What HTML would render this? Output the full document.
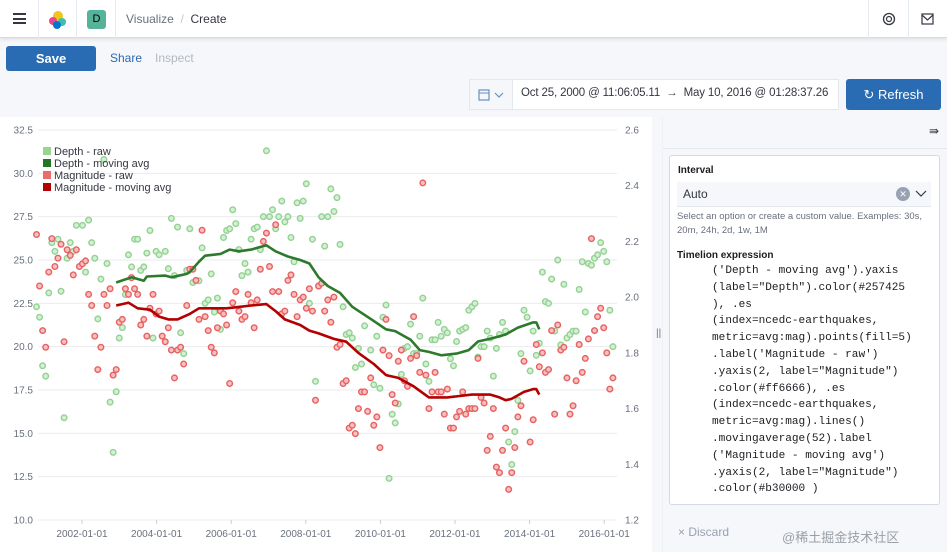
<!DOCTYPE html>
<html><head><meta charset="utf-8">
<style>
*{box-sizing:border-box;margin:0;padding:0}
body{width:947px;height:552px;overflow:hidden;background:#f5f7fa;font-family:"Liberation Sans","Noto Sans CJK SC",sans-serif;position:relative;color:#343741}
.abs{position:absolute}
#hdr{left:0;top:0;width:947px;height:38px;background:#fff;border-bottom:1px solid #d3dae6;box-shadow:0 2px 3px rgba(0,0,0,.08)}
.sep{position:absolute;top:0;width:1px;height:38px;background:#e6ebf2}
.code div{height:16.8px;white-space:pre}
</style></head><body>
<div id="hdr" class="abs">
  <div class="abs" style="left:13px;top:13px;width:13px;height:11px;border-top:2px solid #343741;border-bottom:2px solid #343741"><div style="margin-top:2.5px;height:2px;background:#343741"></div></div>
  <div class="sep" style="left:38px"></div>
  <svg class="abs" style="left:48px;top:10px" width="20" height="20"><circle cx="10" cy="6" r="5" fill="#f0c419"/><circle cx="5" cy="11" r="4" fill="#e8488b"/><circle cx="14" cy="12" r="4" fill="#3ebeb0"/><circle cx="9" cy="15" r="4" fill="#0077cc"/></svg>
  <div class="sep" style="left:76px"></div>
  <div class="abs" style="left:87px;top:10px;width:19px;height:19px;border-radius:3px;background:#54b399;color:#000;font-size:11px;text-align:center;line-height:19px">D</div>
  <div class="sep" style="left:115px"></div>
  <div class="abs" style="left:126px;top:12px;font-size:12px;color:#69707d">Visualize <span style="color:#c2c7cf">&nbsp;/&nbsp;</span> <span style="color:#343741">Create</span></div>
  <div class="sep" style="left:868px"></div>
  <svg class="abs" style="left:882px;top:12px" width="14" height="14"><circle cx="7" cy="7" r="5.5" fill="none" stroke="#343741" stroke-width="1.3"/><circle cx="7" cy="7" r="2.5" fill="none" stroke="#343741" stroke-width="1.2"/></svg>
  <div class="sep" style="left:908px"></div>
  <svg class="abs" style="left:921px;top:13px" width="13" height="12"><rect x="1" y="1" width="11" height="10" fill="none" stroke="#343741" stroke-width="1.2"/><path d="M1 2 L6.5 7 L12 2" fill="none" stroke="#343741" stroke-width="1.2"/></svg>
</div>
<div class="abs" style="left:6px;top:46px;width:90px;height:25px;background:#2a6cb3;border-radius:3px;color:#fff;font-size:13px;font-weight:bold;text-align:center;line-height:25px">Save</div>
<div class="abs" style="left:110px;top:51px;font-size:12px;color:#2a6cb3">Share</div>
<div class="abs" style="left:155px;top:51px;font-size:12px;color:#b4b9c2">Inspect</div>
<div class="abs" style="left:469px;top:79px;width:370px;height:31px;background:#fff;border:1px solid #e3e8ef">
  <div class="abs" style="left:0;top:0;width:43px;height:29px;background:#f5f7fa;border-right:1px solid #e3e8ef">
    <svg class="abs" style="left:8px;top:8px" width="28" height="14"><rect x="1" y="2" width="10" height="10" fill="none" stroke="#6a8fc2" stroke-width="1.2"/><line x1="1" y1="5" x2="11" y2="5" stroke="#6a8fc2"/><path d="M17 5 L21 9 L25 5" fill="none" stroke="#6a8fc2" stroke-width="1.2"/></svg>
  </div>
  <div class="abs" style="left:51px;top:7px;font-size:11.5px;letter-spacing:-0.15px;color:#343741;white-space:nowrap">Oct 25, 2000 @ 11:06:05.11 &nbsp;→&nbsp; May 10, 2016 @ 01:28:37.26</div>
</div>
<div class="abs" style="left:846px;top:79px;width:95px;height:31px;background:#2a6cb3;border-radius:3px;color:#fff;font-size:13px;text-align:center;line-height:31px">↻ Refresh</div>

<div class="abs" style="left:0;top:117px;width:652px;height:435px;background:#fff"></div>
<svg id="chart" class="abs" style="left:0;top:0" width="652" height="552"></svg>

<div class="abs" style="left:656px;top:328px;font-size:10px;color:#69707d">||</div>
<div class="abs" style="left:662px;top:117px;width:285px;height:435px;background:#f5f7fa;border-left:1px solid #eef1f5">
  <div class="abs" style="left:0;top:31px;width:285px;height:1px;background:#e3e8ef"></div>
  <div class="abs" style="left:266px;top:7px;font-size:12px;color:#343741">⇛</div>
</div>
<div class="abs" style="left:669px;top:155px;width:271px;height:350px;background:#fff;border:1px solid #d3dae6;border-radius:3px;overflow:hidden">
  <div class="abs" style="left:8px;top:9px;font-size:10px;font-weight:bold;color:#1a1c21">Interval</div>
  <div class="abs" style="left:7px;top:26px;width:254px;height:25px;background:#f5f7fa;border-bottom:1px solid #e3e8ef">
    <div class="abs" style="left:6px;top:5px;font-size:12px;color:#343741">Auto</div>
    <div class="abs" style="left:219px;top:5px;width:14px;height:14px;border-radius:7px;background:#98a2b3;color:#fff;font-size:9px;text-align:center;line-height:14px">✕</div>
    <svg class="abs" style="left:238px;top:8px" width="12" height="8"><path d="M1 1 L6 6 L11 1" fill="none" stroke="#343741" stroke-width="1.2"/></svg>
  </div>
  <div class="abs" style="left:7px;top:54px;font-size:9.5px;line-height:14px;color:#69707d;width:262px">Select an option or create a custom value. Examples: 30s, 20m, 24h, 2d, 1w, 1M</div>
  <div class="abs" style="left:7px;top:94px;font-size:10px;font-weight:bold;color:#1a1c21">Timelion expression</div>
  <div class="abs code" style="left:42px;top:107px;font-family:'Liberation Mono',monospace;font-size:11.1px;color:#1a1c21;line-height:16.8px">
<div>('Depth - moving avg').yaxis</div><div>(label="Depth").color(#257425</div><div>), .es</div><div>(index=ncedc-earthquakes,</div><div>metric=avg:mag).points(fill=5)</div><div>.label('Magnitude - raw')</div><div>.yaxis(2, label="Magnitude")</div><div>.color(#ff6666), .es</div><div>(index=ncedc-earthquakes,</div><div>metric=avg:mag).lines()</div><div>.movingaverage(52).label</div><div>('Magnitude - moving avg')</div><div>.yaxis(2, label="Magnitude")</div><div>.color(#b30000 )</div>
  </div>
</div>
<div class="abs" style="left:678px;top:525px;font-size:12px;color:#98a2b3">× Discard</div>
<div class="abs" style="left:782px;top:527px;font-size:13px;color:#9aa0a8;white-space:nowrap">@稀土掘金技术社区</div>

<script>
const ticksDepth=[10.0,12.5,15.0,17.5,20.0,22.5,25.0,27.5,30.0,32.5];
const ticksMag=[1.2,1.4,1.6,1.8,2.0,2.2,2.4,2.6];
const xTickYears=[2002,2004,2006,2008,2010,2012,2014,2016];
const xTickLabels=["2002-01-01","2004-01-01","2006-01-01","2008-01-01","2010-01-01","2012-01-01","2014-01-01","2016-01-01"];
const startYear=2000.78, bucketYears=0.0822;
const depthRaw=[22.3,21.7,18.9,18.3,23.1,26.0,25.5,26.2,23.2,15.9,25.1,26.0,25.5,27.0,null,
27.0,24.3,27.3,26.0,25.1,21.6,23.9,30.8,24.8,16.8,13.9,17.4,20.5,21.1,23.0,25.3,24.6,26.2,26.2,24.4,24.6,25.4,26.7,20.5,25.5,25.3,null,
25.5,24.5,27.4,24.1,26.9,20.8,19.6,24.4,26.8,23.7,null,
23.8,25.7,22.5,22.7,24.2,22.0,22.8,21.0,26.3,26.7,26.8,27.9,27.1,25.6,24.1,24.8,24.3,26.2,26.8,26.9,25.6,27.5,31.3,27.5,27.9,26.8,27.5,28.4,27.2,27.5,26.3,24.9,28.3,27.4,28.4,29.4,22.5,26.2,18.0,23.5,
27.5,25.8,27.5,29.1,27.8,28.6,25.9,22.3,20.7,20.8,20.5,18.8,19.9,19.0,21.2,null,19.8,17.8,20.6,17.6,21.7,22.4,12.4,16.1,15.6,16.7,18.4,19.9,20.0,21.3,19.6,19.6,20.6,22.8,19.0,18.0,20.4,20.4,21.4,20.6,21.0,20.8,19.3,18.9,20.3,20.9,21.0,21.1,22.1,22.3,22.5,19.4,20.0,20.0,20.9,20.5,18.3,19.9,20.7,21.4,20.9,14.5,13.2,15.1,16.9,19.6,22.1,21.7,18.6,20.9,19.5,20.2,24.3,22.6,22.5,23.9,20.9,25.0,20.1,23.6,20.5,20.7,20.9,20.9,23.3,24.9,22.0,24.8,24.7,25.1,25.3,26.0,25.5,24.9,22.1,20.0];
const magRaw=[2.225,2.04,1.88,1.82,2.09,2.21,2.11,2.14,2.19,1.84,2.17,2.15,2.08,2.17,2.11,2.12,2.13,2.01,1.97,1.86,1.74,1.82,2.01,1.97,2.03,1.72,1.74,1.91,1.92,2.03,2.01,2.07,2.03,2.01,1.90,1.92,1.86,1.96,2.01,1.94,1.95,1.86,1.84,1.89,1.81,1.71,1.81,1.82,1.76,1.97,2.10,2.10,2.06,1.92,2.24,1.93,1.88,1.82,1.80,1.89,1.95,1.94,1.90,1.69,1.98,2.02,1.95,1.92,1.93,2.01,1.98,1.89,1.99,2.10,2.20,2.23,2.11,2.02,2.26,2.02,1.94,1.95,2.06,2.08,2.01,1.93,1.99,2.00,1.96,2.03,1.95,1.63,
2.04,2.05,1.95,1.99,1.91,2.0,1.82,1.83,1.69,1.70,1.53,1.54,1.51,1.60,1.66,1.66,1.59,1.71,1.54,1.57,1.46,1.81,1.92,1.79,1.65,1.62,1.77,1.81,1.70,1.68,1.78,1.93,1.79,1.73,2.41,1.72,1.60,1.66,1.73,1.66,1.66,1.58,1.67,1.53,1.53,1.57,1.59,1.66,1.58,1.60,1.60,1.60,1.78,1.64,1.62,1.45,1.50,1.60,1.39,1.37,1.45,1.53,1.31,1.37,1.46,1.57,1.61,1.77,null,1.48,1.56,1.83,1.75,1.80,1.73,1.74,1.88,1.58,1.90,1.81,1.82,1.71,1.58,1.61,1.70,1.83,1.73,1.78,1.85,2.21,1.88,1.93,1.96,1.89,1.80,1.67,1.71];
const depthMaIdx=[26,31,35,36,42,44,49,50,53,55,60,63,66,70,75,78,82,86,89,92,95,99,103,109,114,117,122,125,128,132,137,141,144,149,153,157,162,163,164];
const depthMa=[23.7,24.0,23.8,24.05,24.1,24.0,24.2,24.3,24.9,25.25,25.35,25.6,25.5,25.6,25.85,25.5,25.2,25.0,24.8,24.0,23.5,23.1,22.3,21.6,21.0,20.9,20.4,19.8,19.7,19.5,19.6,19.8,20.3,20.5,20.7,21.1,21.4,21.4,21.0];
const magMaIdx=[26,30,33,37,40,43,46,50,53,57,62,66,70,75,78,81,86,89,92,97,101,105,110,114,118,123,128,134,138,142,148,151,153,155,159,162,163,164];
const magMa=[1.97,1.98,1.96,1.955,1.93,1.92,1.92,1.94,1.96,1.96,1.96,1.965,1.97,1.975,1.95,1.92,1.90,1.88,1.87,1.85,1.84,1.80,1.76,1.72,1.71,1.68,1.64,1.64,1.645,1.65,1.65,1.64,1.63,1.635,1.66,1.67,1.67,1.65];

const NS="http://www.w3.org/2000/svg";
const svg=document.getElementById('chart');
const X0=38,X1=617,YT=130,YB=520;
const xYear=y=>82+(y-2002)*37.3;
const xIdx=i=>xYear(startYear+i*bucketYears);
const yDepth=v=>YB-(v-10)/(32.5-10)*(YB-YT);
const yMag=v=>YB-(v-1.2)/(2.6-1.2)*(YB-YT);
function mk(tag,attrs){const e=document.createElementNS(NS,tag);for(const k in attrs)e.setAttribute(k,attrs[k]);svg.appendChild(e);return e;}
ticksDepth.forEach(t=>{
  const g=mk('line',{x1:X0,x2:X1,y1:yDepth(t),y2:yDepth(t),stroke:'#e9ebee','stroke-width':1});
  
  
  const l=mk('text',{x:33,y:yDepth(t)+3.5,'text-anchor':'end','font-size':10,fill:'#69707d','font-family':'Liberation Sans'});
  l.textContent=t.toFixed(1);
  
  
});
ticksMag.forEach(t=>{
  const l=mk('text',{x:625,y:yMag(t)+3.5,'font-size':10,fill:'#69707d','font-family':'Liberation Sans'});
  l.textContent=t.toFixed(1);
  
  
});
xTickYears.forEach((yr,i)=>{
  const x=xYear(yr);
  const tk=mk('line',{x1:x,x2:x,y1:YB,y2:YB+4,stroke:'#c9ccd1'});
  
  
  const l=mk('text',{x:x,y:537,'text-anchor':'middle','font-size':10,fill:'#69707d','font-family':'Liberation Sans'});
  l.textContent=xTickLabels[i];
  
  
});
function dots(arr,yf,stroke,fill,name){
  arr.forEach((v,i)=>{
    if(v===null)return;
    const c=mk('circle',{cx:xIdx(i),cy:yf(v),r:2.8,fill:fill,stroke:stroke,'stroke-width':1.4});
    
    
  });
}
dots(depthRaw,yDepth,'#93d293','#d4efd4','depth-raw-point');
dots(magRaw,yMag,'#e86161','#f7c0c0','magnitude-raw-point');
function line(idx,vals,yf,color,name){
  const d=idx.map((k,i)=>(i?'L':'M')+xIdx(k).toFixed(1)+' '+yf(vals[i]).toFixed(1)).join(' ');
  const p=mk('path',{d:d,fill:'none',stroke:color,'stroke-width':2.6,'stroke-linejoin':'round'});
  
  
}
line(depthMaIdx,depthMa,yDepth,'#2d7a2d','depth-moving-avg-line');
line(magMaIdx,magMa,yMag,'#b30000','magnitude-moving-avg-line');
const legend=[['Depth - raw','#98d690'],['Depth - moving avg','#257425'],['Magnitude - raw','#ee6b6b'],['Magnitude - moving avg','#b30000']];
legend.forEach((e,i)=>{
  const y=151+i*12;
  const r=mk('rect',{x:43,y:y-4,width:8,height:8,fill:e[1]});
  
  
  const t=mk('text',{x:54,y:y+4,'font-size':11,fill:'#343741','font-family':'Liberation Sans'});
  t.textContent=e[0];
  
  
});
</script>
</body></html>
